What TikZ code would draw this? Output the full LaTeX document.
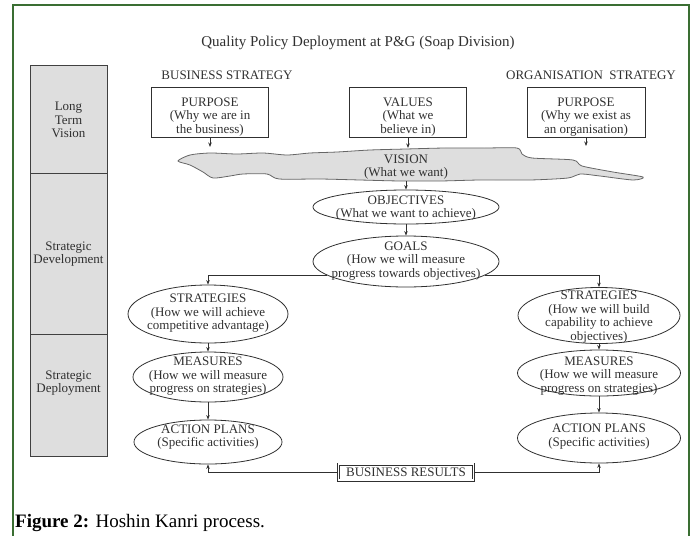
\documentclass[tikz,border=0pt]{standalone}
\usepackage{fontspec}
\setmainfont{Liberation Serif}
\usetikzlibrary{shapes.geometric,arrows.meta}
\definecolor{framegreen}{RGB}{58,110,50}
\definecolor{ink}{RGB}{48,48,48}

\tikzset{
  lbl/.style={font=\fontsize{13}{13.5}\selectfont, text=ink, align=center, inner sep=0pt},
  box/.style={draw=ink, line width=0.8pt, minimum width=117pt, minimum height=50pt, inner sep=0pt},
  oval/.style={ellipse, draw=ink, line width=0.8pt, inner sep=0pt},
  phase/.style={draw=black!75, fill=black!13, line width=0.8pt, minimum width=77pt, inner sep=0pt},
  link/.style={draw=ink, line width=0.8pt, -{Stealth[length=4.5pt,width=3.5pt]}},
}

\begin{document}
\begin{tikzpicture}[x=1pt,y=-1pt]
\useasboundingbox (0,0) rectangle (700,535);
\draw[framegreen, line width=1.6pt] (13,540) -- (13,5) -- (689,5) -- (689,540);

\node[lbl, font=\fontsize{15}{15}\selectfont] (title) at (358,43) {Quality Policy Deployment at P\&G (Soap Division)};
\node[lbl] (bstrat) at (227,75) {BUSINESS STRATEGY};
\node[lbl] (ostrat) at (591,75) {ORGANISATION\ \ STRATEGY};

\node[phase, minimum height=108pt] (ltv) at (68.5,119) {};
\node[phase, minimum height=161pt] (sdev) at (68.5,253.5) {};
\node[phase, minimum height=122pt] (sdep) at (68.5,395) {};
\node[lbl] (ltvtext) at (68.5,120) {Long\\Term\\Vision};
\node[lbl] (sdevtext) at (68.5,254) {Strategic\\Development};
\node[lbl] (sdeptext) at (68.5,383) {Strategic\\Deployment};

\node[box] (bpurpose) at (210,112) {};
\node[lbl] at (210,117) {PURPOSE\\(Why we are in\\the business)};
\node[box] (values) at (408,112) {};
\node[lbl] at (408,117) {VALUES\\(What we\\believe in)};
\node[box, minimum width=118pt] (opurpose) at (586,112) {};
\node[lbl] at (586,117) {PURPOSE\\(Why we exist as\\an organisation)};

\filldraw[fill=black!13, draw=black!60, line width=0.8pt] plot[smooth cycle, tension=0.45] coordinates {
  (178,161) (190,155) (210,153) (237,154) (263,153) (287,155) (310,153) (337,152)
  (370,150) (406,149) (445,148) (485,148) (517,148) (522,154) (532,158) (573,160)
  (582,166) (613,172) (643,177) (633,180) (600,176) (580,174) (568,178) (530,180)
  (480,180) (440,181) (400,181) (360,180) (320,179) (279,179) (267,174) (243,174)
  (230,176) (213,178) (203,172) (190,165)};
\node[lbl, font=\fontsize{13}{12.5}\selectfont] (vision) at (406,167) {VISION\\(What we want)};

\coordinate (bpurposeend) at (210,147);
\coordinate (valuesend) at (408,148);
\coordinate (opurposeend) at (586,146);
\coordinate (visionbottom) at (406,181);

\node[oval, minimum width=186pt, minimum height=34pt] (objectives) at (406,207) {};
\node[lbl] at (406,208) {OBJECTIVES\\(What we want to achieve)};
\node[oval, minimum width=186pt, minimum height=51pt] (goals) at (406,261.5) {};
\node[lbl] at (406,261) {GOALS\\(How we will measure\\progress towards objectives)};

\node[oval, minimum width=160pt, minimum height=58pt] (bstrategies) at (208,314) {};
\node[lbl] at (208,313.5) {STRATEGIES\\(How we will achieve\\competitive advantage)};
\node[oval, minimum width=150pt, minimum height=50pt] (bmeasures) at (208,377) {};
\node[lbl] at (208,376.5) {MEASURES\\(How we will measure\\progress on strategies)};
\node[oval, minimum width=148pt, minimum height=44pt] (bactions) at (208,442) {};
\node[lbl] at (208,437) {ACTION PLANS\\(Specific activities)};

\node[oval, minimum width=162pt, minimum height=56pt] (ostrategies) at (599,315.5) {};
\node[lbl] at (599,317) {STRATEGIES\\(How we will build\\capability to achieve\\objectives)};
\node[oval, minimum width=163pt, minimum height=46pt] (omeasures) at (599,373) {};
\node[lbl] at (599,376) {MEASURES\\(How we will measure\\progress on strategies)};
\node[oval, minimum width=163pt, minimum height=50pt] (oactions) at (599,438) {};
\node[lbl] at (599,436.5) {ACTION PLANS\\(Specific activities)};

\node[lbl, draw=ink, double=white, double distance=1.6pt, line width=0.7pt, minimum width=135pt, minimum height=16pt] (results) at (406,472) {BUSINESS RESULTS};

\node[anchor=base west, font=\fontsize{19}{21}\selectfont, inner sep=0pt] (caption) at (15,527) {\textbf{Figure 2:} Hoshin Kanri process.};

\foreach \from/\to in {bpurpose/bpurposeend, values/valuesend, opurpose/opurposeend}
  \draw[link] (\from.south) -- (\to);
\draw[link] (visionbottom) -- (objectives.north);
\foreach \from/\to in {objectives/goals, bstrategies/bmeasures, bmeasures/bactions, ostrategies/omeasures, omeasures/oactions}
  \draw[link] (\from.south) -- (\to.north);
\draw[link] (goals.190) -| (bstrategies.north);
\draw[link] (goals.-10) -| (ostrategies.north);
\draw[link] (results.west) -| (bactions.south);
\draw[link] (results.east) -| (oactions.south);
\end{tikzpicture}
\end{document}
